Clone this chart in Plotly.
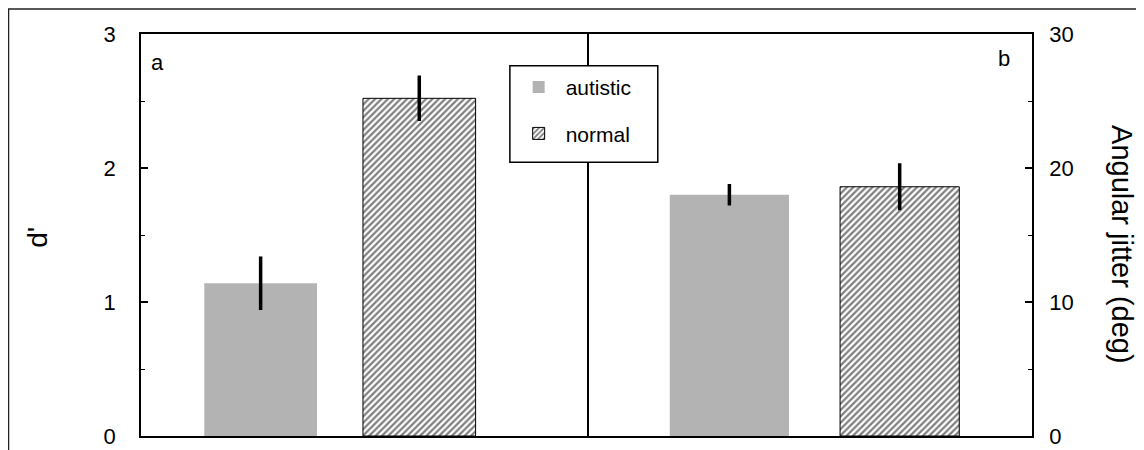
import plotly.graph_objects as go

# ---- data ----
groups = ["autistic", "normal"]
dprime = [1.14, 2.52]
dprime_err = [0.20, 0.17]
jitter = [18.0, 18.6]
jitter_err = [0.8, 1.75]
left_ticks = [0, 1, 2, 3]
right_ticks = [0, 10, 20, 30]

GRAY = "#b3b3b3"
FONT = "Liberation Sans, Arial, Helvetica, sans-serif"

def bar_style(i):
    if i == 0:
        return dict(color=GRAY, line=dict(width=0))
    return dict(color="white", line=dict(color="black", width=1),
                pattern=dict(shape="/", fgcolor="black", bgcolor="white",
                             size=4.5, solidity=0.5))

fig = go.Figure()
for i, g in enumerate(groups):
    fig.add_trace(go.Bar(
        x=[g], y=[dprime[i]], name=g, legendgroup=g, showlegend=True,
        marker=bar_style(i), width=0.71,
        error_y=dict(type="data", array=[dprime_err[i]], color="black",
                     thickness=3.5, width=0),
        xaxis="x", yaxis="y"))
for i, g in enumerate(groups):
    fig.add_trace(go.Bar(
        x=[g], y=[jitter[i]], name=g, legendgroup=g, showlegend=False,
        marker=bar_style(i), width=0.70,
        error_y=dict(type="data", array=[jitter_err[i]], color="black",
                     thickness=3.5, width=0),
        xaxis="x2", yaxis="y2"))

common = dict(showline=True, linecolor="black", linewidth=1.5,
              showgrid=False, zeroline=False)

# page body has an 8px default margin, so the figure is 8px smaller
fig.update_layout(
    width=1136, height=442,
    margin=dict(l=133, r=112, t=26, b=14, autoexpand=False),
    paper_bgcolor="white", plot_bgcolor="white",
    barmode="overlay",
    font=dict(family=FONT, size=22, color="black"),
    xaxis=dict(domain=[0, 0.5], anchor="y", type="category", mirror=True,
               range=[-0.754, 2.054], showticklabels=False, ticks="", **common),
    xaxis2=dict(domain=[0.5, 1], anchor="y2", type="category", mirror=True,
                range=[-0.839, 1.777], showticklabels=False, ticks="", **common),
    yaxis=dict(anchor="x", range=[0, 3], tickvals=left_ticks, ticks="inside",
               mirror=True, ticklen=7, tickwidth=1.5, tickcolor="black",
               ticklabelstandoff=19,
               minor=dict(dtick=0.5, ticks="inside", ticklen=4, tickwidth=1.2,
                          tickcolor="black", showgrid=False),
               **common),
    yaxis2=dict(anchor="x2", side="right", range=[0, 30], tickvals=right_ticks,
                mirror=False, ticks="inside", ticklen=7, tickwidth=1.5,
                tickcolor="black", ticklabelstandoff=11,
                minor=dict(dtick=5, ticks="inside", ticklen=4, tickwidth=1.2,
                           tickcolor="black", showgrid=False),
                **common),
    legend=dict(x=0.416, y=0.918, xanchor="left", yanchor="top",
                borderwidth=0, bgcolor="rgba(0,0,0,0)",
                font=dict(size=21), traceorder="grouped", tracegroupgap=16,
                itemwidth=44),
    showlegend=True,
)

fig.add_annotation(text="d'", textangle=-90, xref="paper", yref="paper",
                   x=-0.117, y=0.495, xanchor="center", yanchor="middle",
                   showarrow=False, font=dict(size=28))
fig.add_annotation(text="Angular jitter (deg)", textangle=90, xref="paper",
                   yref="paper", x=1.101, y=0.475, xanchor="center",
                   yanchor="middle", showarrow=False, font=dict(size=29))
fig.add_annotation(text="a", xref="paper", yref="paper", x=0.019, y=0.93,
                   xanchor="center", yanchor="middle",
                   showarrow=False, font=dict(size=22))
fig.add_annotation(text="b", xref="paper", yref="paper", x=0.9686, y=0.94,
                   xanchor="center", yanchor="middle",
                   showarrow=False, font=dict(size=22))

# legend box (covers the panel divider like the original)
fig.add_shape(type="rect", xref="paper", yref="paper",
              x0=0.414, y0=0.681, x1=0.580, y1=0.921,
              line=dict(color="black", width=1.5), fillcolor="white",
              layer="above")

# outer frame of the figure
fig.add_shape(type="rect", xref="paper", yref="paper",
              x0=-0.1487, y0=-0.08, x1=1.15, y1=1.062,
              line=dict(color="#222", width=1.5), layer="below")

fig.write_html("out.html")
